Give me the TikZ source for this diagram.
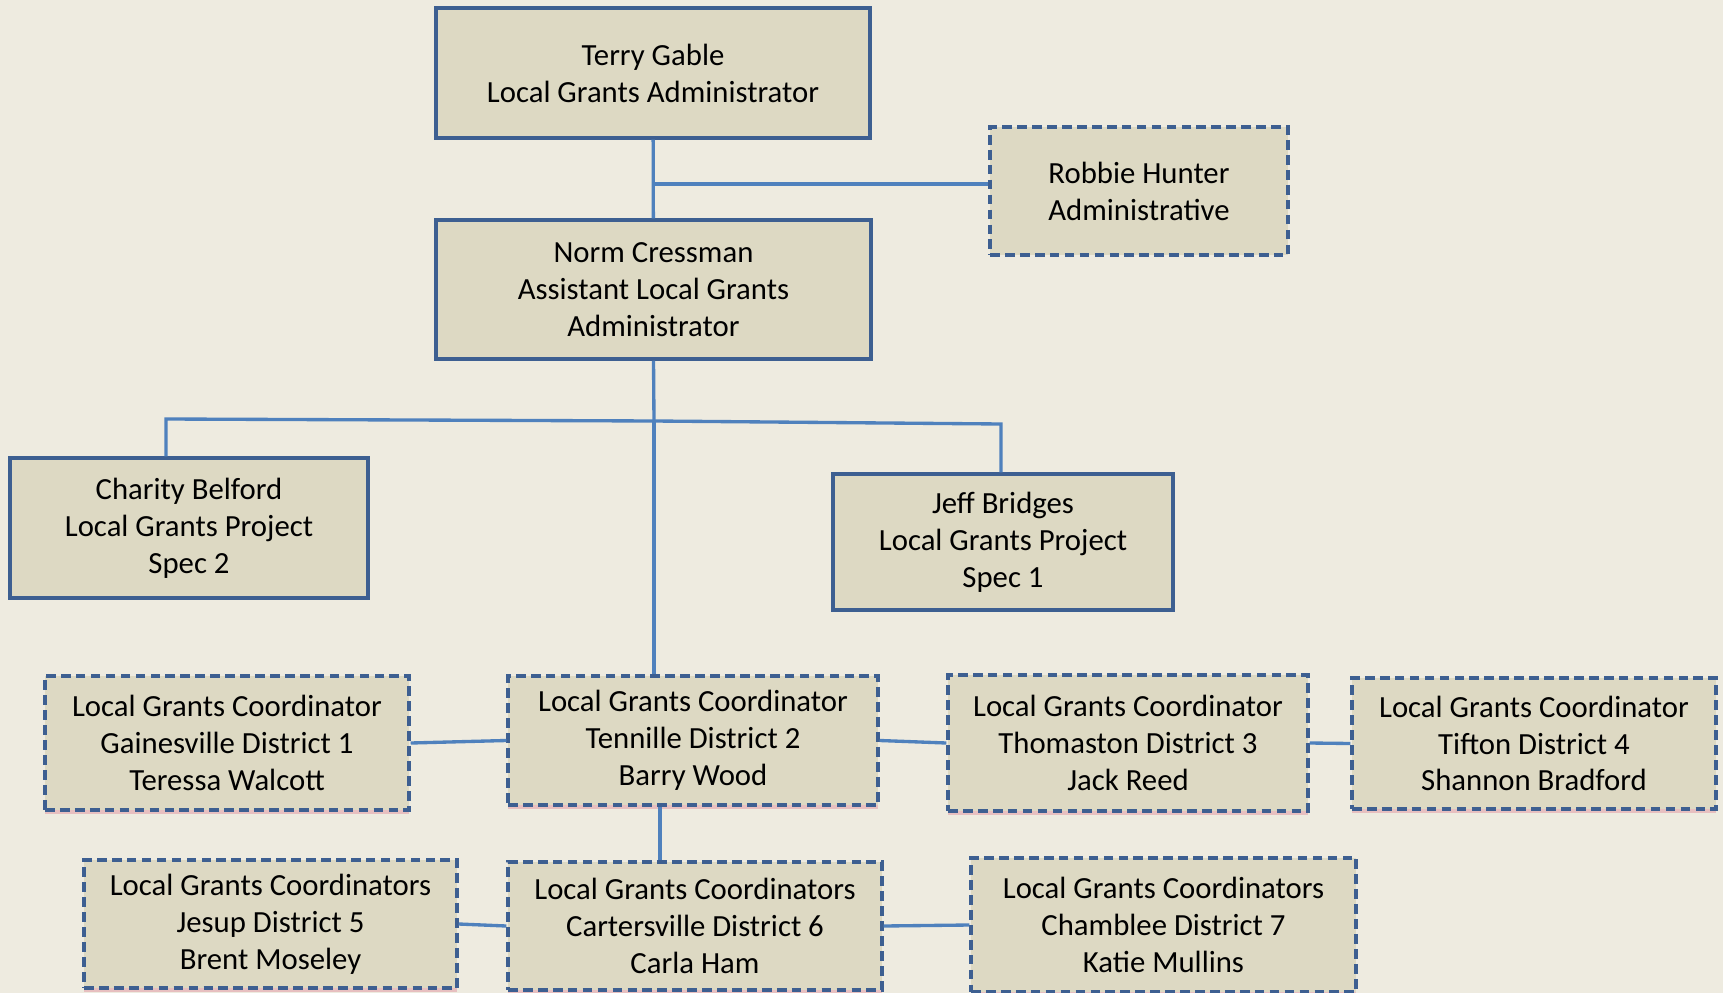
\documentclass[tikz,border=0pt]{standalone}
\usepackage{fontspec}
\setmainfont{Carlito}
\usetikzlibrary{shadows}
\definecolor{paper}{HTML}{EEEBE0}
\definecolor{boxfill}{HTML}{DDD9C3}
\definecolor{boxline}{HTML}{3D5F91}
\definecolor{wire}{HTML}{4F81BD}
\definecolor{shadowpink}{HTML}{E6B4B8}
\tikzset{
  box/.style={draw=boxline,fill=boxfill,line width=2pt,inner sep=0pt,
    align=center,font=\fontsize{17.5}{21}\selectfont},
  dashbox/.style={box,dash pattern=on 5.5pt off 3pt,
    drop shadow={shadow xshift=0pt,shadow yshift=-2.5pt,fill=shadowpink,opacity=.8}},
  wire/.style={draw=wire,line width=1.9pt}
}
\begin{document}
\begin{tikzpicture}[x=0.02cm,y=-0.02cm]
    \fill[paper] (0,0) rectangle (1723,993);
    \useasboundingbox (0,0) rectangle (1723,993);
    % top
    \node[box,minimum width=8.68cm,minimum height=2.6cm] (terry) at (653,73)
        {Terry Gable\\Local Grants Administrator};
    \node[box,dash pattern=on 5.5pt off 3pt,minimum width=5.96cm,minimum height=2.56cm] (robbie) at (1139,191)
        {Robbie Hunter\\Administrative};
    \node[box,minimum width=8.7cm,minimum height=2.78cm] (norm) at (653.5,289.5)
        {Norm Cressman\\Assistant Local Grants\\Administrator};
    % project specs
    \node[box,minimum width=7.16cm,minimum height=2.8cm] (charity) at (189,528)
        {Charity Belford\\Local Grants Project\\Spec 2};
    \node[box,minimum width=6.8cm,minimum height=2.72cm] (jeff) at (1003,542)
        {Jeff Bridges\\Local Grants Project\\Spec 1};
    % coordinators
    \node[dashbox,minimum width=7.28cm,minimum height=2.68cm] (gain) at (227,743)
        {Local Grants Coordinator\\Gainesville District 1\\Teressa Walcott};
    \node[dashbox,minimum width=7.4cm,minimum height=2.58cm] (tenn) at (693,740.5)
        {Local Grants Coordinator\\Tennille District 2\\Barry Wood};
    \node[dashbox,minimum width=7.2cm,minimum height=2.72cm] (thom) at (1128,743)
        {Local Grants Coordinator\\Thomaston District 3\\Jack Reed};
    \node[dashbox,minimum width=7.28cm,minimum height=2.62cm] (tift) at (1534,743.5)
        {Local Grants Coordinator\\Tifton District 4\\Shannon Bradford};
    \node[dashbox,minimum width=7.46cm,minimum height=2.56cm] (jesup) at (270.5,924)
        {Local Grants Coordinators\\Jesup District 5\\Brent Moseley};
    \node[dashbox,minimum width=7.48cm,minimum height=2.56cm] (carters) at (695,926)
        {Local Grants Coordinators\\Cartersville District 6\\Carla Ham};
    \node[dashbox,minimum width=7.7cm,minimum height=2.68cm] (chamb) at (1163.5,925)
        {Local Grants Coordinators\\Chamblee District 7\\Katie Mullins};
    % joints
    \coordinate (tee) at (653,184);
    \coordinate (bar) at (654,421);
    \coordinate (barl) at (166,419);
    \coordinate (barr) at (1001,424);
    \coordinate (drop) at (660,840);
    % connectors
    \draw[wire] (terry) -- (norm);
    \draw[wire] (tee) -- (tee -| robbie.west);
    \draw[wire] (norm.south) -- (bar);
    \draw[wire] (charity.north -| barl) -- (barl) -- (bar) -- (barr) -- (jeff.north -| barr);
    \draw[wire] (bar) -- (bar |- tenn.north);
    \draw[wire] (gain.east) -- (tenn.west);
    \draw[wire] (tenn.east) -- (thom.west);
    \draw[wire] (thom.east) -- (tift.west);
    \draw[wire] (tenn.south -| drop) -- (carters.north -| drop);
    \draw[wire] (jesup.east) -- (carters.west);
    \draw[wire] (carters.east) -- (chamb.west);
\end{tikzpicture}
\end{document}
